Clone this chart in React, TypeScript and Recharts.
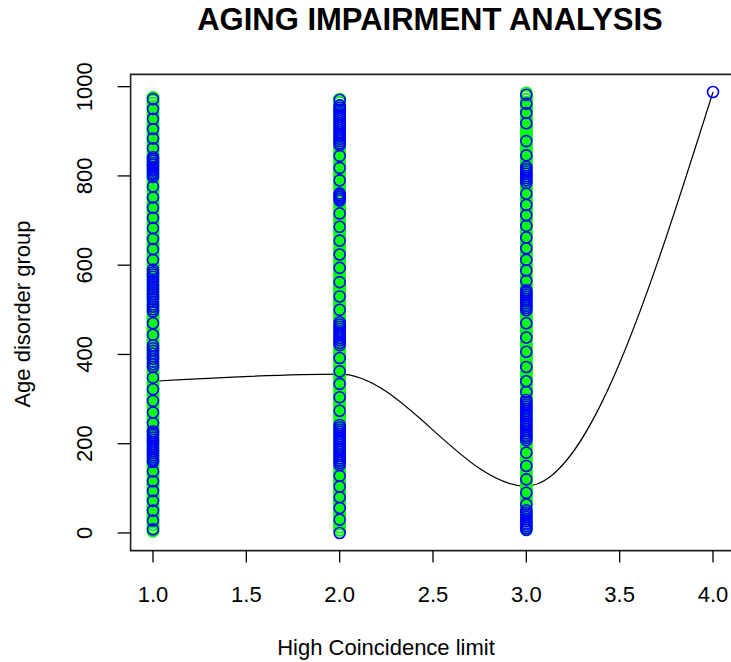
import { ComposedChart, Scatter, Line, XAxis, YAxis, ReferenceArea } from "recharts";

const FONT = "'Liberation Sans', Arial, sans-serif";

const xTicks = [1, 1.5, 2, 2.5, 3, 3.5, 4];
const yTicks = [0, 200, 400, 600, 800, 1000];

// green circles, one list per x group
const green1 = [976, 969, 963, 956, 949, 942, 936, 929, 922, 915, 909, 902, 895, 888, 882, 875, 868, 861, 855, 848, 841, 834, 828, 821, 814, 807, 801, 794, 787, 780, 774, 767, 760, 753, 747, 740, 733, 726, 720, 713, 706, 699, 693, 686, 679, 672, 666, 659, 652, 645, 639, 632, 625, 618, 612, 605, 598, 591, 585, 578, 571, 564, 558, 551, 544, 537, 531, 524, 517, 510, 504, 497, 490, 483, 477, 470, 463, 456, 450, 443, 436, 429, 423, 416, 409, 402, 396, 389, 382, 375, 369, 362, 355, 348, 342, 335, 328, 321, 315, 308, 301, 294, 288, 281, 274, 267, 261, 254, 247, 240, 234, 227, 220, 213, 207, 200, 193, 186, 180, 173, 166, 159, 153, 146, 139, 132, 126, 119, 112, 105, 99, 92, 85, 78, 72, 65, 58, 51, 45, 38, 31, 24, 18, 11, 4];
const green2 = [972, 965, 958, 951, 945, 938, 931, 924, 918, 911, 904, 897, 891, 884, 877, 870, 864, 857, 850, 843, 837, 830, 823, 816, 810, 803, 796, 789, 783, 776, 769, 762, 756, 749, 742, 735, 729, 722, 715, 708, 702, 695, 688, 681, 675, 668, 661, 654, 648, 641, 634, 627, 621, 614, 607, 600, 594, 587, 580, 573, 567, 560, 553, 546, 540, 533, 526, 519, 513, 506, 499, 492, 486, 479, 472, 465, 459, 452, 445, 438, 432, 425, 418, 411, 405, 398, 391, 384, 378, 371, 364, 357, 351, 344, 337, 330, 324, 317, 310, 303, 297, 290, 283, 276, 270, 263, 256, 249, 243, 236, 229, 222, 216, 209, 202, 195, 189, 182, 175, 168, 162, 155, 148, 141, 135, 128, 121, 114, 108, 101, 94, 87, 81, 74, 67, 60, 54, 47, 40, 33, 27, 20, 13, 6];
const green3 = [986, 979, 972, 965, 959, 952, 945, 938, 932, 925, 918, 911, 905, 898, 891, 884, 878, 871, 864, 857, 851, 844, 837, 830, 824, 817, 810, 803, 797, 790, 783, 776, 770, 763, 756, 749, 743, 736, 729, 722, 716, 709, 702, 695, 689, 682, 675, 668, 662, 655, 648, 641, 635, 628, 621, 614, 608, 601, 594, 587, 581, 574, 567, 560, 554, 547, 540, 533, 527, 520, 513, 506, 500, 493, 486, 479, 473, 466, 459, 452, 446, 439, 432, 425, 419, 412, 405, 398, 392, 385, 378, 371, 365, 358, 351, 344, 338, 331, 324, 317, 311, 304, 297, 290, 284, 277, 270, 263, 257, 250, 243, 236, 230, 223, 216, 209, 203, 196, 189, 182, 176, 169, 162, 155, 149, 142, 135, 128, 122, 115, 108, 101, 95, 88, 81, 74, 68, 61, 54, 47, 41, 34, 27, 20, 14, 7];

// blue circles
const blue1 = [972, 950, 928, 905, 884, 862, 842, 838, 834, 829, 825, 820, 816, 812, 807, 803, 798, 776, 752, 729, 706, 683, 659, 636, 612, 590, 584, 579, 574, 568, 563, 557, 552, 546, 541, 535, 530, 524, 518, 512, 507, 501, 496, 470, 444, 420, 414, 408, 402, 396, 390, 384, 378, 372, 348, 322, 296, 270, 246, 228, 224, 219, 214, 209, 204, 199, 194, 189, 184, 179, 174, 169, 164, 159, 138, 116, 94, 72, 50, 28, 8];
const blue2 = [970, 958, 953, 948, 943, 938, 933, 928, 923, 918, 913, 908, 903, 898, 893, 888, 883, 878, 873, 869, 845, 818, 790, 761, 757, 753, 749, 745, 716, 686, 655, 624, 594, 562, 530, 500, 472, 467, 462, 457, 452, 447, 442, 437, 432, 426, 421, 392, 362, 334, 304, 274, 242, 237, 232, 227, 222, 217, 212, 207, 202, 197, 192, 187, 182, 177, 172, 167, 162, 157, 152, 128, 104, 80, 56, 30, 0];
const blue3 = [982, 962, 941, 918, 878, 846, 820, 815, 810, 805, 800, 795, 790, 784, 760, 735, 712, 688, 662, 638, 612, 588, 565, 544, 539, 534, 529, 524, 519, 514, 509, 504, 499, 470, 438, 406, 372, 340, 316, 298, 293, 288, 283, 278, 273, 268, 263, 258, 253, 248, 243, 238, 233, 228, 223, 218, 213, 208, 180, 150, 120, 90, 64, 51, 46, 41, 36, 31, 26, 21, 16, 11, 7];
const blue4 = [988];

// smoothed trend through group levels
const trendX = [1, 2, 3, 4];
const trendY = [340, 356, 105, 988];

const toPoints = (x: number, ys: number[]) => ys.map((y) => ({ x, y }));

const greenPoints = [...toPoints(1, green1), ...toPoints(2, green2), ...toPoints(3, green3)];
const bluePoints = [
  ...toPoints(1, blue1),
  ...toPoints(2, blue2),
  ...toPoints(3, blue3),
  ...toPoints(4, blue4),
];
const trendData = trendX.map((x, i) => ({ x, y: trendY[i] }));

const ring = (color: string, sw: number) => (p: any) => (
  <circle cx={p.cx} cy={p.cy} r={5.5} fill="none" stroke={color} strokeWidth={sw} />
);

function XTick(props: any) {
  const { x, y, payload } = props;
  return (
    <text x={x} y={y} dy={37} textAnchor="middle" fontSize={22} fontFamily={FONT} fill="#000">
      {Number(payload.value).toFixed(1)}
    </text>
  );
}

function YTick(props: any) {
  const { x, y, payload } = props;
  const bx = x - 23.6;
  return (
    <text
      x={bx}
      y={y}
      transform={`rotate(-90 ${bx} ${y})`}
      textAnchor="middle"
      fontSize={22}
      fontFamily={FONT}
      fill="#000"
    >
      {payload.value}
    </text>
  );
}

export default function App() {
  return (
    <div
      style={{
        position: "absolute",
        left: 0,
        top: 0,
        width: 731,
        height: 662,
        overflow: "hidden",
        background: "#fff",
      }}
    >
      <ComposedChart
        width={760}
        height={662}
        margin={{ top: 74.4, right: 24.6, left: 0, bottom: 51.4 }}
      >
        <XAxis
          type="number"
          dataKey="x"
          domain={[0.88, 4.12]}
          ticks={xTicks}
          allowDataOverflow
          height={60}
          tickSize={12}
          axisLine={false}
          tickLine={{ stroke: "#000", strokeWidth: 1.3 }}
          tick={<XTick />}
        />
        <YAxis
          type="number"
          dataKey="y"
          domain={[-39.5, 1027.5]}
          ticks={yTicks}
          allowDataOverflow
          width={130.6}
          tickSize={13}
          axisLine={false}
          tickLine={{ stroke: "#000", strokeWidth: 1.3 }}
          tick={<YTick />}
        />
        <ReferenceArea
          x1={0.88}
          x2={4.12}
          y1={-39.5}
          y2={1027.5}
          fill="none"
          fillOpacity={0}
          stroke="#222"
          strokeWidth={1.6}
        />
        <Scatter data={greenPoints} shape={ring("#00FF00", 2)} isAnimationActive={false} />
        <Scatter data={bluePoints} shape={ring("#0000FF", 1.6)} isAnimationActive={false} />
        <Line
          data={trendData}
          dataKey="y"
          type="monotone"
          stroke="#000"
          strokeWidth={1.2}
          dot={false}
          activeDot={false}
          isAnimationActive={false}
        />
      </ComposedChart>
      <svg
        width={731}
        height={662}
        style={{ position: "absolute", left: 0, top: 0, pointerEvents: "none" }}
      >
        <text x={430} y={30} textAnchor="middle" fontSize={31} fontWeight="bold" fontFamily={FONT} fill="#000">
          AGING IMPAIRMENT ANALYSIS
        </text>
        <text x={386} y={655} textAnchor="middle" fontSize={22} fontFamily={FONT} fill="#000">
          High Coincidence limit
        </text>
        <text
          x={30}
          y={314}
          transform="rotate(-90 30 314)"
          textAnchor="middle"
          fontSize={22}
          fontFamily={FONT}
          fill="#000"
        >
          Age disorder group
        </text>
      </svg>
    </div>
  );
}
